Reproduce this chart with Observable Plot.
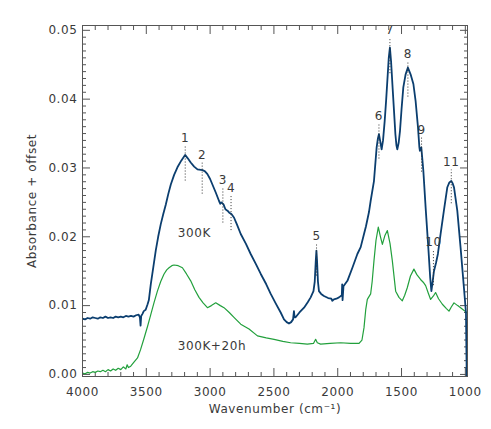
<!DOCTYPE html>
<html>
<head>
<meta charset="utf-8">
<script src="https://cdn.jsdelivr.net/npm/d3@7"></script>
<script src="https://cdn.jsdelivr.net/npm/@observablehq/plot@0.6"></script>
<style>
  html, body { margin: 0; padding: 0; background: #fff; }
  #chart svg { font-family: "DejaVu Sans", sans-serif; letter-spacing: 0.6px; }
</style>
</head>
<body>
<div id="chart"></div>
<script>
// ---- Data ----
const blueWn = [4000,3980,3960,3940,3920,3900,3880,3860,3840,3820,3800,3780,3760,3740,3720,3700,3680,3660,3640,3620,3600,3580,3560,3550,3545,3540,3530,3520,3505,3490,3480,3465,3445,3426,3407,3387,3367,3347,3328,3308,3282,3256,3225,3196,3175,3152,3125,3099,3060,3040,3021,3000,2982,2955,2930,2920,2911,2895,2880,2864,2850,2833,2813,2790,2760,2720,2682,2640,2603,2560,2525,2485,2447,2421,2400,2382,2365,2350,2343,2338,2330,2300,2264,2235,2212,2190,2180,2172,2167,2162,2155,2147,2130,2108,2075,2050,2042,2030,2010,1990,1968,1965,1962,1955,1924,1885,1846,1820,1794,1779,1755,1742,1716,1695,1685,1677,1668,1656,1645,1632,1620,1611,1600,1591,1582,1570,1558,1548,1540,1533,1522,1512,1500,1486,1468,1450,1429,1407,1390,1371,1360,1356,1345,1338,1329,1311,1290,1275,1266,1256,1246,1230,1215,1194,1168,1141,1125,1110,1100,1089,1063,1037,1011,995,986];
const blueAbs = [0.0081,0.0080,0.0082,0.0081,0.0083,0.0082,0.0081,0.0083,0.0082,0.0084,0.0082,0.0083,0.0082,0.0084,0.0083,0.0084,0.0083,0.0085,0.0084,0.0085,0.0084,0.0086,0.0087,0.0083,0.0071,0.0085,0.0088,0.0092,0.0094,0.0102,0.0108,0.0131,0.0156,0.0180,0.0200,0.0218,0.0233,0.0247,0.0262,0.0276,0.0290,0.0301,0.0311,0.0319,0.0314,0.0308,0.0302,0.0298,0.0297,0.0295,0.0291,0.0284,0.0276,0.0264,0.0252,0.0248,0.0250,0.0247,0.0240,0.0238,0.0235,0.0233,0.0228,0.0218,0.0204,0.0190,0.0175,0.0160,0.0146,0.0131,0.0117,0.0103,0.0090,0.0080,0.0076,0.0074,0.0076,0.0080,0.0092,0.0083,0.0083,0.0090,0.0097,0.0105,0.0112,0.0121,0.0135,0.0165,0.0180,0.0165,0.0135,0.0121,0.0117,0.0114,0.0111,0.0110,0.0107,0.0109,0.0110,0.0112,0.0115,0.0131,0.0108,0.0128,0.0136,0.0155,0.0175,0.0185,0.0204,0.0215,0.0236,0.0252,0.0281,0.0330,0.0343,0.0349,0.0340,0.0327,0.0340,0.0368,0.0400,0.0427,0.0460,0.0475,0.0455,0.0417,0.0380,0.0349,0.0333,0.0327,0.0337,0.0354,0.0385,0.0417,0.0436,0.0446,0.0436,0.0422,0.0398,0.0359,0.0330,0.0325,0.0330,0.0315,0.0296,0.0242,0.0184,0.0140,0.0121,0.0135,0.0150,0.0162,0.0175,0.0204,0.0238,0.0272,0.0279,0.0281,0.0278,0.0272,0.0238,0.0184,0.0126,0.0090,-0.0050];

const greenWn = [4000,3980,3960,3940,3920,3900,3880,3860,3840,3820,3800,3780,3760,3740,3720,3700,3680,3674,3660,3650,3640,3622,3600,3569,3545,3517,3490,3465,3440,3413,3387,3361,3340,3322,3300,3283,3250,3217,3185,3152,3120,3087,3055,3021,2990,2956,2920,2891,2850,2813,2760,2695,2629,2560,2499,2430,2369,2300,2238,2190,2173,2160,2134,2060,1977,1900,1833,1810,1794,1780,1768,1742,1730,1716,1700,1682,1665,1650,1630,1611,1590,1572,1546,1520,1494,1475,1455,1430,1403,1380,1351,1330,1311,1290,1272,1250,1233,1210,1180,1150,1128,1110,1089,1060,1037,983];
const greenAbs = [0.0002,0.0001,0.0003,0.0002,0.0004,0.0003,0.0005,0.0004,0.0006,0.0004,0.0007,0.0005,0.0008,0.0006,0.0009,0.0007,0.0011,0.0010,0.0008,0.0014,0.0010,0.0012,0.0017,0.0024,0.0036,0.0053,0.0070,0.0087,0.0104,0.0121,0.0135,0.0146,0.0152,0.0155,0.0158,0.0159,0.0158,0.0155,0.0146,0.0136,0.0123,0.0112,0.0104,0.0097,0.0100,0.0104,0.0100,0.0097,0.0090,0.0083,0.0073,0.0066,0.0056,0.0053,0.0051,0.0048,0.0046,0.0045,0.0044,0.0045,0.0051,0.0046,0.0044,0.0045,0.0046,0.0045,0.0045,0.0050,0.0068,0.0095,0.0109,0.0117,0.0135,0.0165,0.0195,0.0214,0.0200,0.0189,0.0202,0.0209,0.0190,0.0165,0.0121,0.0112,0.0107,0.0115,0.0126,0.0143,0.0153,0.0145,0.0138,0.0134,0.0129,0.0118,0.0109,0.0114,0.0119,0.0110,0.0102,0.0096,0.0092,0.0098,0.0104,0.0100,0.0097,0.0089];

const peakLabels = ["1","2","3","4","5","6","7","8","9","10","11"];
const peakWn     = [3195,3062,2900,2836,2166,1677,1591,1450,1343,1250,1110];
const peakTop    = [0.0332,0.0307,0.0270,0.0259,0.0190,0.0363,0.0488,0.0454,0.0344,0.0180,0.0297];
const peakBottom = [0.0281,0.0262,0.0220,0.0209,0.0143,0.0313,0.0437,0.0403,0.0294,0.0129,0.0248];

const curveNames = ["300K","300K+20h"];
const curveLabelWn = [3254,3254];
const curveLabelAbs = [0.0205,0.0041];

const xMajorTicks = [4000,3500,3000,2500,2000,1500,1000];
const xTickLabels = ["4000","3500","3000","2500","2000","1500","1000"];
const yMajorTicks = [0,0.01,0.02,0.03,0.04,0.05];
const yTickLabels = ["0.00","0.01","0.02","0.03","0.04","0.05"];
const xTitle = "Wavenumber (cm⁻¹)";
const yTitle = "Absorbance + offset";

// ---- Build tables ----
const blue = blueWn.map((w,i)=>({wn:w, abs:blueAbs[i]}));
const green = greenWn.map((w,i)=>({wn:w, abs:greenAbs[i]}));
const peaks = peakLabels.map((t,i)=>({t, wn:peakWn[i], top:peakTop[i], bottom:peakBottom[i]}));
const curveLabels = curveNames.map((t,i)=>({t, wn:curveLabelWn[i], abs:curveLabelAbs[i]}));
const xMinor = d3.range(3900, 999, -100).filter(v => v % 500 !== 0);
const yMinor = d3.range(1, 50).map(i => i/1000).filter((v,i) => (i+1) % 10 !== 0);

const axisColor = "#555";
const textColor = "#3a3a3a";

const chart = Plot.plot({
  width: 491,
  height: 429,
  marginLeft: 82,
  marginRight: 24,
  marginTop: 25,
  marginBottom: 53,
  style: {fontSize: "12px", color: textColor, background: "white"},
  x: {domain: [4000, 983]},
  y: {domain: [-0.0003, 0.0507]},
  marks: [
    // tick labels
    Plot.axisX(xMajorTicks, {anchor: "bottom", tickSize: 0, tickPadding: 11, tickFormat: d => xTickLabels[xMajorTicks.indexOf(d)], label: null, fill: textColor}),
    Plot.axisY(yMajorTicks, {anchor: "left", tickSize: 0, tickPadding: 5, tickFormat: d => yTickLabels[yMajorTicks.indexOf(d)], label: null, fill: textColor}),
    // axis titles
    Plot.text([xTitle], {frameAnchor: "bottom", dy: 36, textAnchor: "middle", fill: textColor, fontSize: 12}),
    Plot.text([yTitle], {frameAnchor: "left", dx: -50, rotate: -90, textAnchor: "middle", fill: textColor, fontSize: 12}),
    // inward major ticks on all four sides
    Plot.axisX(xMajorTicks, {anchor: "bottom", tickSize: -8, text: null, label: null, stroke: axisColor}),
    Plot.axisX(xMajorTicks, {anchor: "top", tickSize: -8, text: null, label: null, stroke: axisColor}),
    Plot.axisY(yMajorTicks, {anchor: "left", tickSize: -8, text: null, label: null, stroke: axisColor}),
    Plot.axisY(yMajorTicks, {anchor: "right", tickSize: -8, text: null, label: null, stroke: axisColor}),
    // inward minor ticks
    Plot.axisX(xMinor, {anchor: "bottom", tickSize: -4, text: null, label: null, stroke: axisColor}),
    Plot.axisX(xMinor, {anchor: "top", tickSize: -4, text: null, label: null, stroke: axisColor}),
    Plot.axisY(yMinor, {anchor: "left", tickSize: -4, text: null, label: null, stroke: axisColor}),
    Plot.axisY(yMinor, {anchor: "right", tickSize: -4, text: null, label: null, stroke: axisColor}),
    // spectra
    Plot.line(green, {x: "wn", y: "abs", stroke: "#22a03c", strokeWidth: 1.2, clip: true}),
    Plot.line(blue, {x: "wn", y: "abs", stroke: "#0b3e6f", strokeWidth: 1.8, clip: true}),
    // peak markers
    Plot.ruleX(peaks, {x: "wn", y1: "bottom", y2: "top", stroke: "#333", strokeWidth: 1, strokeDasharray: "1,2"}),
    Plot.text(peaks, {x: "wn", y: "top", text: "t", dy: -8, fill: textColor, fontSize: 12}),
    Plot.text(curveLabels, {x: "wn", y: "abs", text: "t", textAnchor: "start", fill: textColor, fontSize: 12}),
    Plot.frame({stroke: axisColor, strokeWidth: 1})
  ]
});
document.getElementById("chart").appendChild(chart);
</script>
</body>
</html>
